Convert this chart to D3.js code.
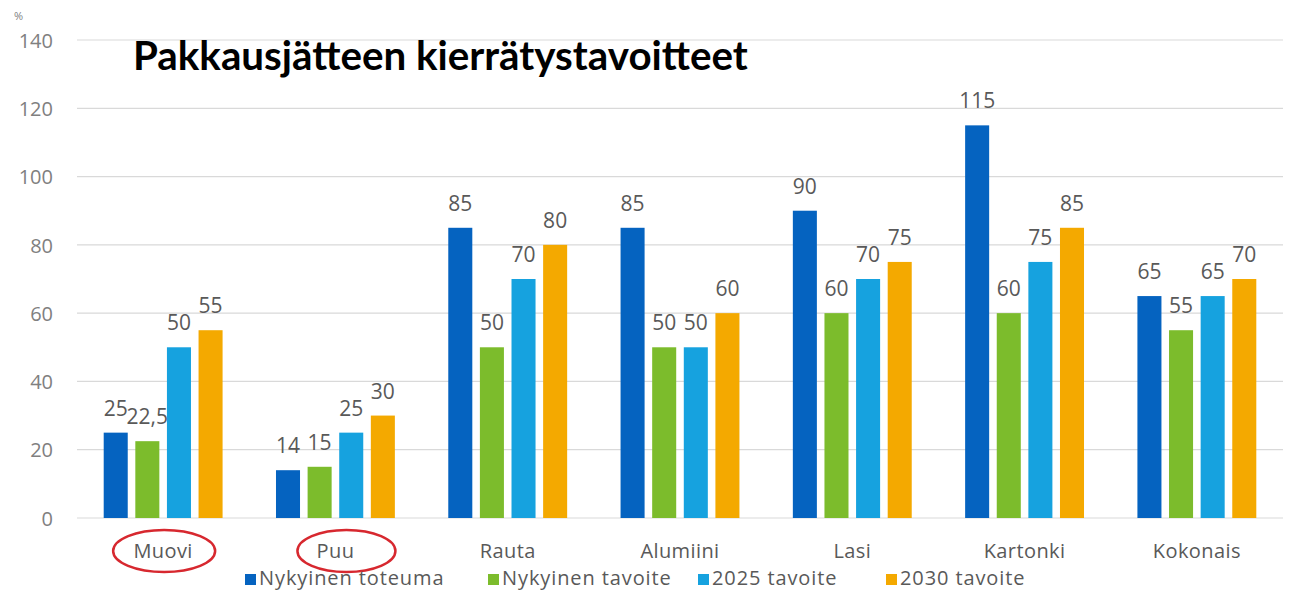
<!DOCTYPE html>
<html>
<head>
<meta charset="utf-8">
<script src="https://cdn.jsdelivr.net/npm/d3@7"></script>
<style>
html,body{margin:0;padding:0;background:#fff;}
svg{display:block;}
</style>
</head>
<body>
<svg id="chart" width="1293" height="590"></svg>
<script>
const categories = ["Muovi", "Puu", "Rauta", "Alumiini", "Lasi", "Kartonki", "Kokonais"];
const seriesNames = ["Nykyinen toteuma", "Nykyinen tavoite", "2025 tavoite", "2030 tavoite"];
const nykyinenToteuma = [25, 14, 85, 85, 90, 115, 65];
const nykyinenTavoite = [22.5, 15, 50, 50, 60, 60, 55];
const tavoite2025 = [50, 25, 70, 50, 70, 75, 65];
const tavoite2030 = [55, 30, 80, 60, 75, 85, 70];
const yTicks = [0, 20, 40, 60, 80, 100, 120, 140];
const circled = ["Muovi", "Puu"];
const titleText = "Pakkausjätteen kierrätystavoitteet";
const unitText = "%";

const seriesValues = [nykyinenToteuma, nykyinenTavoite, tavoite2025, tavoite2030];
const colors = ["#0563c0", "#7cbc2c", "#16a2df", "#f4a900"];
const FONT = "'Open Sans', Lato, sans-serif";

const svg = d3.select("#chart");
const plotLeft = 77, plotRight = 1283, plotTop = 40, plotBottom = 518;

const y = d3.scaleLinear().domain([0, 140]).range([plotBottom, plotTop]);
const x0 = d3.scaleBand().domain(categories).range([plotLeft, plotRight]).paddingInner(0.31).paddingOuter(0.155);
const x1 = d3.scaleBand().domain(seriesNames).range([0, x0.bandwidth()]).paddingInner(0.24);

// gridlines
svg.append("g").selectAll("line").data(yTicks).join("line")
  .attr("x1", plotLeft).attr("x2", plotRight)
  .attr("y1", d => y(d)).attr("y2", d => y(d))
  .attr("stroke", "#d9d9d9").attr("stroke-width", 1.2);

// y axis labels
const yAxis = d3.axisLeft(y).tickValues(yTicks).tickSize(0).tickPadding(0).tickFormat(d3.format("d"));
const yg = svg.append("g").attr("transform", `translate(${53},0)`).call(yAxis);
yg.select(".domain").remove();
yg.selectAll("text").attr("font-family", FONT).attr("font-size", 20).attr("fill", "#808080").attr("dy", "0.36em");

// unit
svg.append("text").attr("x", 14).attr("y", 20).text(unitText)
  .attr("font-family", FONT).attr("font-size", 11).attr("fill", "#7f7f7f");

// bars
const fmt = v => String(v).replace(".", ",");
const groups = svg.append("g").selectAll("g").data(categories).join("g")
  .attr("transform", d => `translate(${x0(d)},0)`);
groups.each(function(cat, ci) {
  const g = d3.select(this);
  const rows = seriesNames.map((s, si) => ({s, si, v: seriesValues[si][ci]}));
  g.selectAll("rect").data(rows).join("rect")
    .attr("x", d => x1(d.s)).attr("width", x1.bandwidth())
    .attr("y", d => y(d.v)).attr("height", d => y(0) - y(d.v))
    .attr("fill", d => colors[d.si]);
  g.selectAll("text").data(rows).join("text")
    .attr("x", d => x1(d.s) + x1.bandwidth() / 2)
    .attr("y", d => y(d.v) - 17)
    .attr("text-anchor", "middle")
    .attr("font-family", FONT).attr("font-size", 21).attr("fill", "#595959")
    .text(d => fmt(d.v));
});

// category axis
const xAxis = d3.axisBottom(x0).tickSize(0).tickPadding(0);
const xg = svg.append("g").attr("transform", `translate(0,${plotBottom})`).call(xAxis);
xg.select(".domain").remove();
xg.selectAll("text").attr("font-family", FONT).attr("font-size", 20).attr("fill", "#595959")
  .attr("y", 40).attr("dy", "0").attr("letter-spacing", 0.4);

// red ellipses
svg.append("g").selectAll("ellipse").data(circled).join("ellipse")
  .attr("cx", d => x0(d) + x0.bandwidth() / 2 + (d === "Puu" ? 11 : 1))
  .attr("cy", plotBottom + 33)
  .attr("rx", d => d === "Puu" ? 49 : 51).attr("ry", 21)
  .attr("fill", "none").attr("stroke", "#d7282f").attr("stroke-width", 2.5);

// legend
const legendX = [245, 488, 698, 886];
const lg = svg.append("g").selectAll("g").data(seriesNames).join("g")
  .attr("transform", (d, i) => `translate(${legendX[i]},0)`);
lg.append("rect").attr("x", 0).attr("y", 574).attr("width", 11).attr("height", 11)
  .attr("fill", (d, i) => colors[i]);
lg.append("text").attr("x", 14).attr("y", 585).text(d => d)
  .attr("font-family", FONT).attr("font-size", 20).attr("fill", "#595959")
  .attr("letter-spacing", 0.9);

// title
const title = svg.append("text").attr("x", 133).attr("y", 70).text(titleText)
  .attr("font-family", "Lato, 'Open Sans', sans-serif").attr("font-weight", "bold")
  .attr("font-size", 32).attr("fill", "#000");
const tw = title.node().getComputedTextLength();
title.attr("font-size", 32 * 615 / tw);
</script>
</body>
</html>
